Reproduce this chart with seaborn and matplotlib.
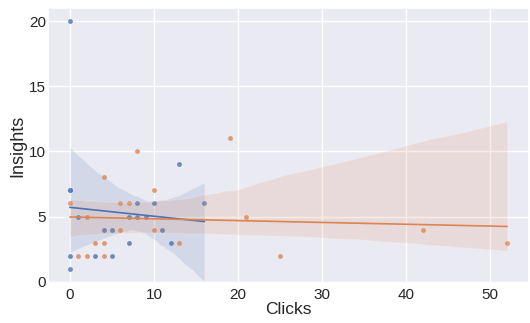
import matplotlib
matplotlib.use("Agg")
import matplotlib.pyplot as plt
import seaborn as sns
import pandas as pd

# Group A (blue)
clicks_a = [0, 0, 0, 0, 0, 1, 3, 4, 5, 5, 7, 7, 8, 8, 9, 10, 11, 12, 13, 16]
insights_a = [20, 7, 7, 2, 1, 5, 2, 4, 4, 2, 5, 3, 6, 5, 5, 6, 4, 3, 9, 6]
# Group B (orange)
clicks_b = [0, 1, 2, 2, 3, 4, 4, 4, 6, 6, 7, 8, 10, 10, 13, 19, 21, 25, 42, 52]
insights_b = [6, 2, 5, 2, 3, 8, 3, 2, 6, 4, 6, 10, 7, 4, 3, 11, 5, 2, 4, 3]

df = pd.concat([
    pd.DataFrame({"Clicks": clicks_a, "Insights": insights_a, "group": "A"}),
    pd.DataFrame({"Clicks": clicks_b, "Insights": insights_b, "group": "B"}),
])

sns.set_theme(style="darkgrid")
plt.rcParams["font.family"] = ["Liberation Sans", "DejaVu Sans"]

fig = plt.figure(figsize=(5.3, 3.23), dpi=100)
ax = fig.add_axes([48 / 530, 1 - 283 / 323, 481 / 530, 275 / 323])
palette = sns.color_palette("deep")
for i, g in enumerate(["A", "B"]):
    sub = df[df["group"] == g]
    sns.regplot(data=sub, x="Clicks", y="Insights", ax=ax, color=palette[i],
                scatter_kws={"s": 12, "linewidths": 0},
                line_kws={"linewidth": 1.2}, seed=5)

ax.set_xlim(-2.6, 54.6)
ax.set_ylim(-0.1, 21.0)
ax.set_xlabel("Clicks", fontsize=12.5, labelpad=0)
ax.set_ylabel("Insights", fontsize=13, labelpad=2)
ax.tick_params(axis="x", labelsize=11, pad=3.5, length=0)
ax.tick_params(axis="y", labelsize=11, pad=1.5, length=0)
ax.set_xticks([0, 10, 20, 30, 40, 50])
ax.set_yticks([0, 5, 10, 15, 20])
fig.savefig("out.png", dpi=100)
